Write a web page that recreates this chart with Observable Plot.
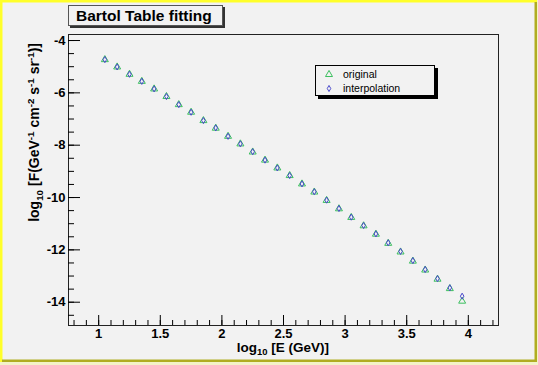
<!DOCTYPE html>
<html><head><meta charset="utf-8">
<script src="https://cdn.jsdelivr.net/npm/d3@7"></script>
<script src="https://cdn.jsdelivr.net/npm/@observablehq/plot@0.6"></script>
<style>
html,body{margin:0;padding:0;background:#f2f2f2;}
#chart{position:relative;width:538px;height:365px;overflow:hidden;}
svg{display:block;}
</style></head><body><div id="chart"></div>
<script>
// ---- data ----
const logE = [1.05,1.15,1.25,1.35,1.45,1.55,1.65,1.75,1.85,1.95,2.05,2.15,2.25,2.35,2.45,2.55,2.65,2.75,2.85,2.95,3.05,3.15,3.25,3.35,3.45,3.55,3.65,3.75,3.85,3.95];
const original = [-4.73,-5.01,-5.29,-5.56,-5.85,-6.14,-6.45,-6.74,-7.06,-7.35,-7.66,-7.95,-8.26,-8.57,-8.87,-9.16,-9.48,-9.79,-10.11,-10.43,-10.76,-11.08,-11.40,-11.75,-12.08,-12.43,-12.77,-13.12,-13.48,-13.96];
const interpolation = [-4.73,-5.01,-5.29,-5.56,-5.85,-6.14,-6.45,-6.74,-7.06,-7.34,-7.66,-7.95,-8.25,-8.57,-8.87,-9.16,-9.48,-9.78,-10.10,-10.42,-10.75,-11.07,-11.39,-11.73,-12.06,-12.41,-12.75,-13.10,-13.45,-13.77];
const seriesNames = ["original", "interpolation"];
const xMajorTicks = [1, 1.5, 2, 2.5, 3, 3.5, 4];
const yMajorTicks = [-4, -6, -8, -10, -12, -14];
const titleText = "Bartol Table fitting";

// ---- layout ----
const W = 538, H = 365;
const mL = 68, mR = 40, mT = 34, mB = 40;
const frameW = W - mL - mR, frameH = H - mT - mB;
const green = "#3cbf5f", blue = "#4a4acc";
const font = "'Liberation Sans', Arial, Helvetica, sans-serif";

const xMinor = d3.range(8, 43).map(d => d / 10);
const yMinor = d3.range(-29, -7).map(d => d / 2);
const rows = logE.map((x, i) => ({x, original: original[i], interpolation: interpolation[i]}));

const plot = Plot.plot({
  width: W, height: H,
  marginLeft: mL, marginRight: mR, marginTop: mT, marginBottom: mB,
  x: {domain: [0.755, 4.245]},
  y: {domain: [-14.89, -3.77]},
  style: {background: "#f2f2f2", fontFamily: font, color: "#000", overflow: "visible"},
  marks: [
    Plot.frame({stroke: "#222", strokeWidth: 1}),
    Plot.tickX(xMinor, {x: d => d, insetTop: frameH - 5, stroke: "#000"}),
    Plot.tickX(xMajorTicks, {x: d => d, insetTop: frameH - 10, stroke: "#000"}),
    Plot.tickY(yMinor, {y: d => d, insetRight: frameW - 6, stroke: "#000"}),
    Plot.tickY(yMajorTicks, {y: d => d, insetRight: frameW - 12, stroke: "#000"}),
    Plot.axisX(xMajorTicks, {tickSize: 0, tickPadding: 3, fontSize: 13, fontWeight: "bold", tickFormat: d => String(d), label: null}),
    Plot.axisY(yMajorTicks, {tickSize: 0, tickPadding: 3, fontSize: 13, fontWeight: "bold", tickFormat: d => String(d), label: null}),
    Plot.dot(rows, {x: "x", y: "original", symbol: "triangle", r: 2.6, stroke: green, strokeWidth: 1}),
    Plot.dot(rows, {x: "x", y: "interpolation", symbol: "diamond", r: 1.85, stroke: blue, strokeWidth: 1})
  ]
});
document.getElementById("chart").appendChild(plot);

const svg = d3.select(plot);

// canvas bevel border
svg.append("rect").attr("x", 0).attr("y", 0).attr("width", W).attr("height", 2.5).attr("fill", "#ffff2a");
svg.append("rect").attr("x", 0).attr("y", 0).attr("width", 2.5).attr("height", H).attr("fill", "#ffff2a");
svg.append("rect").attr("x", 0).attr("y", 362).attr("width", W).attr("height", 3).attr("fill", "#f3f3c8");
svg.append("rect").attr("x", 537).attr("y", 0).attr("width", 1).attr("height", H).attr("fill", "#f3f3c8");
svg.append("rect").attr("x", 2).attr("y", 359.5).attr("width", 535).attr("height", 2.5).attr("fill", "#b0ad22");
svg.append("rect").attr("x", 534.5).attr("y", 2).attr("width", 2.5).attr("height", 360).attr("fill", "#b0ad22");

function rich(sel, parts, fs) {
  let shift = 0;
  parts.forEach(([t, kind]) => {
    const target = kind === "sub" ? 3.5 : kind === "sup" ? -5 : 0;
    sel.append("tspan")
      .attr("dy", target - shift)
      .attr("font-size", kind === "n" ? fs : fs * 0.7)
      .text(t);
    shift = target;
  });
}

// title box
const tb = svg.append("g").attr("text-anchor", "start");
tb.append("rect").attr("x", 70).attr("y", 7).attr("width", 155).attr("height", 21).attr("fill", "#333");
tb.append("rect").attr("x", 68.5).attr("y", 5.5).attr("width", 154).attr("height", 20).attr("fill", "#f2f2f2").attr("stroke", "#555");
tb.append("text").attr("x", 76).attr("y", 21).attr("font-family", font).attr("font-weight", "bold")
  .attr("font-size", 15.5).attr("text-anchor", "start").text(titleText);

// axis titles
const xt = svg.append("text").attr("x", 283).attr("y", 351.5).attr("text-anchor", "middle")
  .attr("font-family", font).attr("font-weight", "bold");
rich(xt, [["log", "n"], ["10", "sub"], [" [E (GeV)]", "n"]], 13.5);

const yt = svg.append("text").attr("transform", "translate(39,43) rotate(-90)").attr("text-anchor", "end")
  .attr("font-family", font).attr("font-weight", "bold");
rich(yt, [["log", "n"], ["10", "sub"], [" [F(GeV", "n"], ["-1", "sup"], [" cm", "n"], ["-2", "sup"],
  [" s", "n"], ["-1", "sup"], [" sr", "n"], ["-1", "sup"], [")]", "n"]], 14);

// legend
const lg = svg.append("g").attr("text-anchor", "start");
lg.append("rect").attr("x", 318).attr("y", 68).attr("width", 120).attr("height", 31).attr("fill", "#000");
lg.append("rect").attr("x", 315.5).attr("y", 65.5).attr("width", 119).attr("height", 30).attr("fill", "#f2f2f2").attr("stroke", "#000");
const legendSymbols = [d3.symbolTriangle, d3.symbolDiamond];
const legendSizes = [2.6 * 2.6 * Math.PI, 1.85 * 1.85 * Math.PI];
const legendColors = [green, blue];
seriesNames.forEach((name, i) => {
  const cy = 74.5 + i * 14;
  lg.append("path").attr("transform", `translate(329,${cy})`)
    .attr("d", d3.symbol(legendSymbols[i], legendSizes[i])()).attr("fill", "none").attr("stroke", legendColors[i]);
  lg.append("text").attr("x", 343).attr("y", cy).attr("dy", "0.35em").attr("font-family", font)
    .attr("font-size", 10.5).attr("text-anchor", "start").text(name);
});
</script>
</body></html>
